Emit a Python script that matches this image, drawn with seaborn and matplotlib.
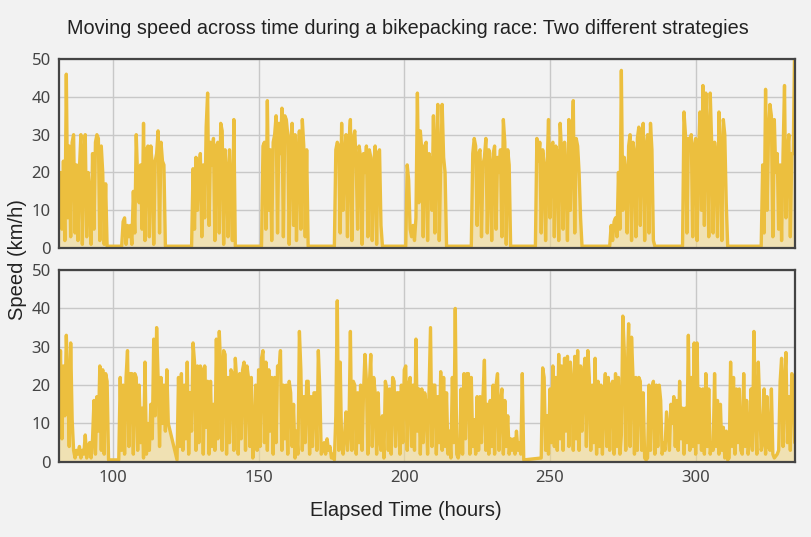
import numpy as np
import pandas as pd
import seaborn as sns
import matplotlib.pyplot as plt

# speeds (km/h) sampled every half hour; each block starts at the given elapsed hour
step = 0.5

# rider 1: rides by day, sleeps by night
top_starts = [81.5, 103, 127, 151, 176, 200.5, 223, 245, 270.5, 295.5, 322.5]
top_blocks = [
    [11, 20, 5, 23, 2, 46, 8, 27, 3, 28, 30, 4, 22, 2, 21, 30, 1, 25, 30, 3,
     20, 14, 1, 25, 5, 28, 30, 29, 2, 27, 20, 1, 17, 0.5],
    [0.5, 7, 8, 1, 6, 3, 6, 1, 15, 4, 30, 18, 12, 22, 5, 33, 2, 26, 27, 3,
     27, 22, 1, 23, 25, 31, 4, 28, 23, 22, 0.5],
    [0.5, 21, 5, 24, 10, 20, 25, 3, 22, 8, 32, 41, 6, 28, 22, 29, 2, 27, 28, 4,
     33, 31, 1, 26, 20, 3, 26, 15, 2, 34, 0.5],
    [0.5, 27, 28, 5, 39, 10, 26, 2, 28, 30, 35, 4, 33, 25, 37, 3, 35, 34, 30, 1,
     28, 33, 6, 30, 2, 24, 31, 5, 34, 27, 3, 26, 0.5],
    [0.5, 26, 28, 27, 4, 33, 10, 25, 30, 3, 28, 34, 2, 29, 31, 22, 5, 27, 24, 1,
     25, 20, 27, 3, 26, 24, 2, 22, 27, 1, 25, 26, 6, 0.5],
    [0.5, 22, 18, 5, 3, 6, 2, 8, 41, 12, 31, 26, 3, 27, 28, 2, 25, 22, 10, 35,
     4, 26, 38, 2, 22, 38, 24, 20, 0.5],
    [0.5, 25, 29, 27, 6, 25, 26, 3, 22, 24, 29, 4, 26, 22, 2, 25, 27, 5, 24, 20,
     26, 3, 34, 28, 1, 26, 22, 0.5],
    [0.5, 29, 23, 28, 4, 26, 22, 2, 21, 34, 8, 27, 28, 3, 27, 25, 2, 33, 25, 5,
     28, 20, 2, 34, 10, 26, 39, 4, 29, 27, 20, 8, 0.5],
    [0.5, 6, 2, 7, 8, 3, 20, 5, 47, 10, 24, 20, 4, 27, 30, 2, 28, 25, 3, 29,
     32, 6, 30, 33, 2, 27, 30, 4, 33, 26, 2, 0.5],
    [0.5, 36, 30, 4, 29, 26, 30, 3, 27, 29, 2, 25, 36, 10, 43, 6, 41, 30, 3, 41,
     28, 4, 28, 24, 3, 36, 25, 2, 34, 30, 12, 0.5],
    [0.5, 22, 4, 42, 10, 30, 38, 35, 3, 34, 20, 25, 5, 22, 2, 25, 43, 8, 25, 30,
     3, 25, 25, 55],
]

# rider 2: short stops spread over the whole race
bottom_starts = [81.5, 102, 122, 247]
bottom_blocks = [
    [10, 29, 6, 25, 12, 33, 21, 4, 31, 11, 3, 1, 3, 2, 4, 1, 3, 2, 7, 1,
     4, 5, 1, 6, 16, 2, 17, 8, 25, 3, 24, 2, 23, 21, 0.5],
    [0.5, 22, 3, 20, 2, 22, 29, 4, 23, 23, 2, 23, 22, 3, 20, 5, 14, 1, 26, 2,
     10, 3, 15, 6, 32, 12, 35, 22, 4, 22, 10, 20, 8, 24, 10],
    [0.5, 22, 4, 23, 3, 20, 6, 26, 2, 18, 8, 31, 26, 3, 25, 5, 25, 24, 2, 25,
     9, 21, 2, 21, 4, 15, 3, 32, 6, 34, 24, 3, 29, 28, 2, 22, 5, 24, 23, 3,
     27, 21, 2, 23, 6, 24, 26, 3, 25, 22, 4, 22, 1, 5, 20, 3, 24, 4, 27, 29,
     5, 26, 3, 24, 8, 22, 2, 22, 5, 25, 24, 29, 3, 20, 6, 20, 2, 21, 18, 4,
     15, 1, 8, 2, 34, 24, 3, 17, 5, 21, 21, 2, 17, 4, 18, 18, 3, 29, 19, 2,
     3, 5, 2, 6, 3, 4, 1, 2, 0.5, 12, 42, 3, 26, 4, 2, 7, 13, 3, 8, 34,
     3, 21, 20, 2, 18, 5, 20, 3, 18, 28, 21, 2, 20, 28, 4, 22, 18, 2, 18, 6,
     3, 12, 1, 21, 19, 3, 19, 2, 22, 21, 4, 18, 18, 2, 20, 5, 24, 25, 3, 20,
     22, 4, 20, 3, 32, 8, 19, 2, 19, 5, 18, 15, 2, 18, 35, 4, 20, 20, 2, 17,
     5, 23.5, 3, 22, 4, 18, 2, 8, 1, 22, 5, 40, 2, 1, 3, 19, 2, 23, 6, 23,
     23, 2, 22, 4, 11, 2, 17, 3, 17, 5, 17, 26.5, 3, 15, 2, 16, 4, 20, 2, 20,
     23, 3, 15, 19, 2, 16, 4, 12, 2, 6, 3, 6, 2, 8, 3, 5, 2, 23, 0.5],
    [1, 24.5, 22, 3, 12, 2, 19, 5, 25, 4, 22, 3, 28, 6, 25, 3, 27, 8, 27.5, 4,
     26, 20, 3, 27.5, 6, 29, 3, 25, 8, 22, 27, 4, 29, 22, 3, 20, 5, 27, 2, 21,
     4, 20, 2, 16, 23, 4, 22, 3, 20, 21, 2, 23, 4, 22, 2, 7, 38, 29, 3, 22,
     36, 4, 32.5, 22, 2, 22, 3, 22, 21, 3, 18, 1, 0.5, 1, 20, 3, 19, 21, 2, 20,
     4, 20, 16, 2, 5, 3, 13, 8, 3, 15, 10, 17, 4, 16, 3, 21, 6, 14, 2, 14,
     5, 33, 3, 22, 4, 31, 2, 31, 5, 19, 3, 19, 2, 23, 4, 19, 2, 5, 3, 23,
     4, 16, 2, 15, 3, 9, 1, 8, 0.5, 1, 26, 4, 22, 2, 19, 5, 19, 3, 2, 23,
     4, 16, 2, 6, 19, 3, 34, 13, 2, 26, 15, 3, 5, 19, 2, 17, 4, 3, 19, 2,
     1, 1.5, 2, 3, 21, 27, 4, 20, 28.5, 5, 17, 3, 23, 22, 5],
]


def to_frame(starts, blocks):
    parts = []
    for start, vals in zip(starts, blocks):
        parts.append(pd.DataFrame({
            'time': start + step * np.arange(len(vals)),
            'speed': vals,
        }))
    return pd.concat(parts, ignore_index=True)


df_top = to_frame(top_starts, top_blocks)
df_bottom = to_frame(bottom_starts, bottom_blocks)

line_color = '#ecbf3e'
fill_color = '#f0d78a'
bg = '#f2f2f2'

sns.set_theme(style='whitegrid', rc={
    'figure.facecolor': bg,
    'axes.facecolor': bg,
    'grid.color': '#c8c8c8',
    'grid.linewidth': 1.0,
    'axes.edgecolor': '#444444',
})
plt.rcParams['font.family'] = ['Liberation Sans', 'DejaVu Sans']

fig = plt.figure(figsize=(8.12, 5.37), dpi=100)
ax1 = fig.add_axes([0.0727, 0.538, 0.906, 0.352])
ax2 = fig.add_axes([0.0727, 0.140, 0.906, 0.357])

for ax, df in [(ax1, df_top), (ax2, df_bottom)]:
    ax.fill_between(df['time'], df['speed'], color=fill_color, alpha=0.6, lw=0)
    sns.lineplot(data=df, x='time', y='speed', ax=ax, color=line_color,
                 lw=2.4, estimator=None, sort=False)
    ax.set_xlim(81.5, 334)
    ax.set_ylim(0, 50)
    ax.set_yticks([0, 10, 20, 30, 40, 50])
    ax.set_xticks([100, 150, 200, 250, 300])
    ax.set_xlabel('')
    ax.set_ylabel('')
    for s in ax.spines.values():
        s.set_linewidth(1.6)
        s.set_color('#444444')
    ax.tick_params(axis='both', length=0, labelsize=12, labelcolor='#444444', pad=6)
    for lab in ax.get_yticklabels() + ax.get_xticklabels():
        lab.set_family(['Noto Sans', 'DejaVu Sans'])

ax1.set_xticklabels([])

fig.text(0.502, 0.947, 'Moving speed across time during a bikepacking race: Two different strategies',
         ha='center', va='center', fontsize=14.3, color='#222222')
fig.text(0.022, 0.516, 'Speed (km/h)', rotation=90, ha='center', va='center',
         fontsize=14.5, color='#222222')
fig.text(0.5, 0.05, 'Elapsed Time (hours)', ha='center', va='center',
         fontsize=14.5, color='#222222')

fig.savefig('out.png', dpi=100, facecolor=bg)
